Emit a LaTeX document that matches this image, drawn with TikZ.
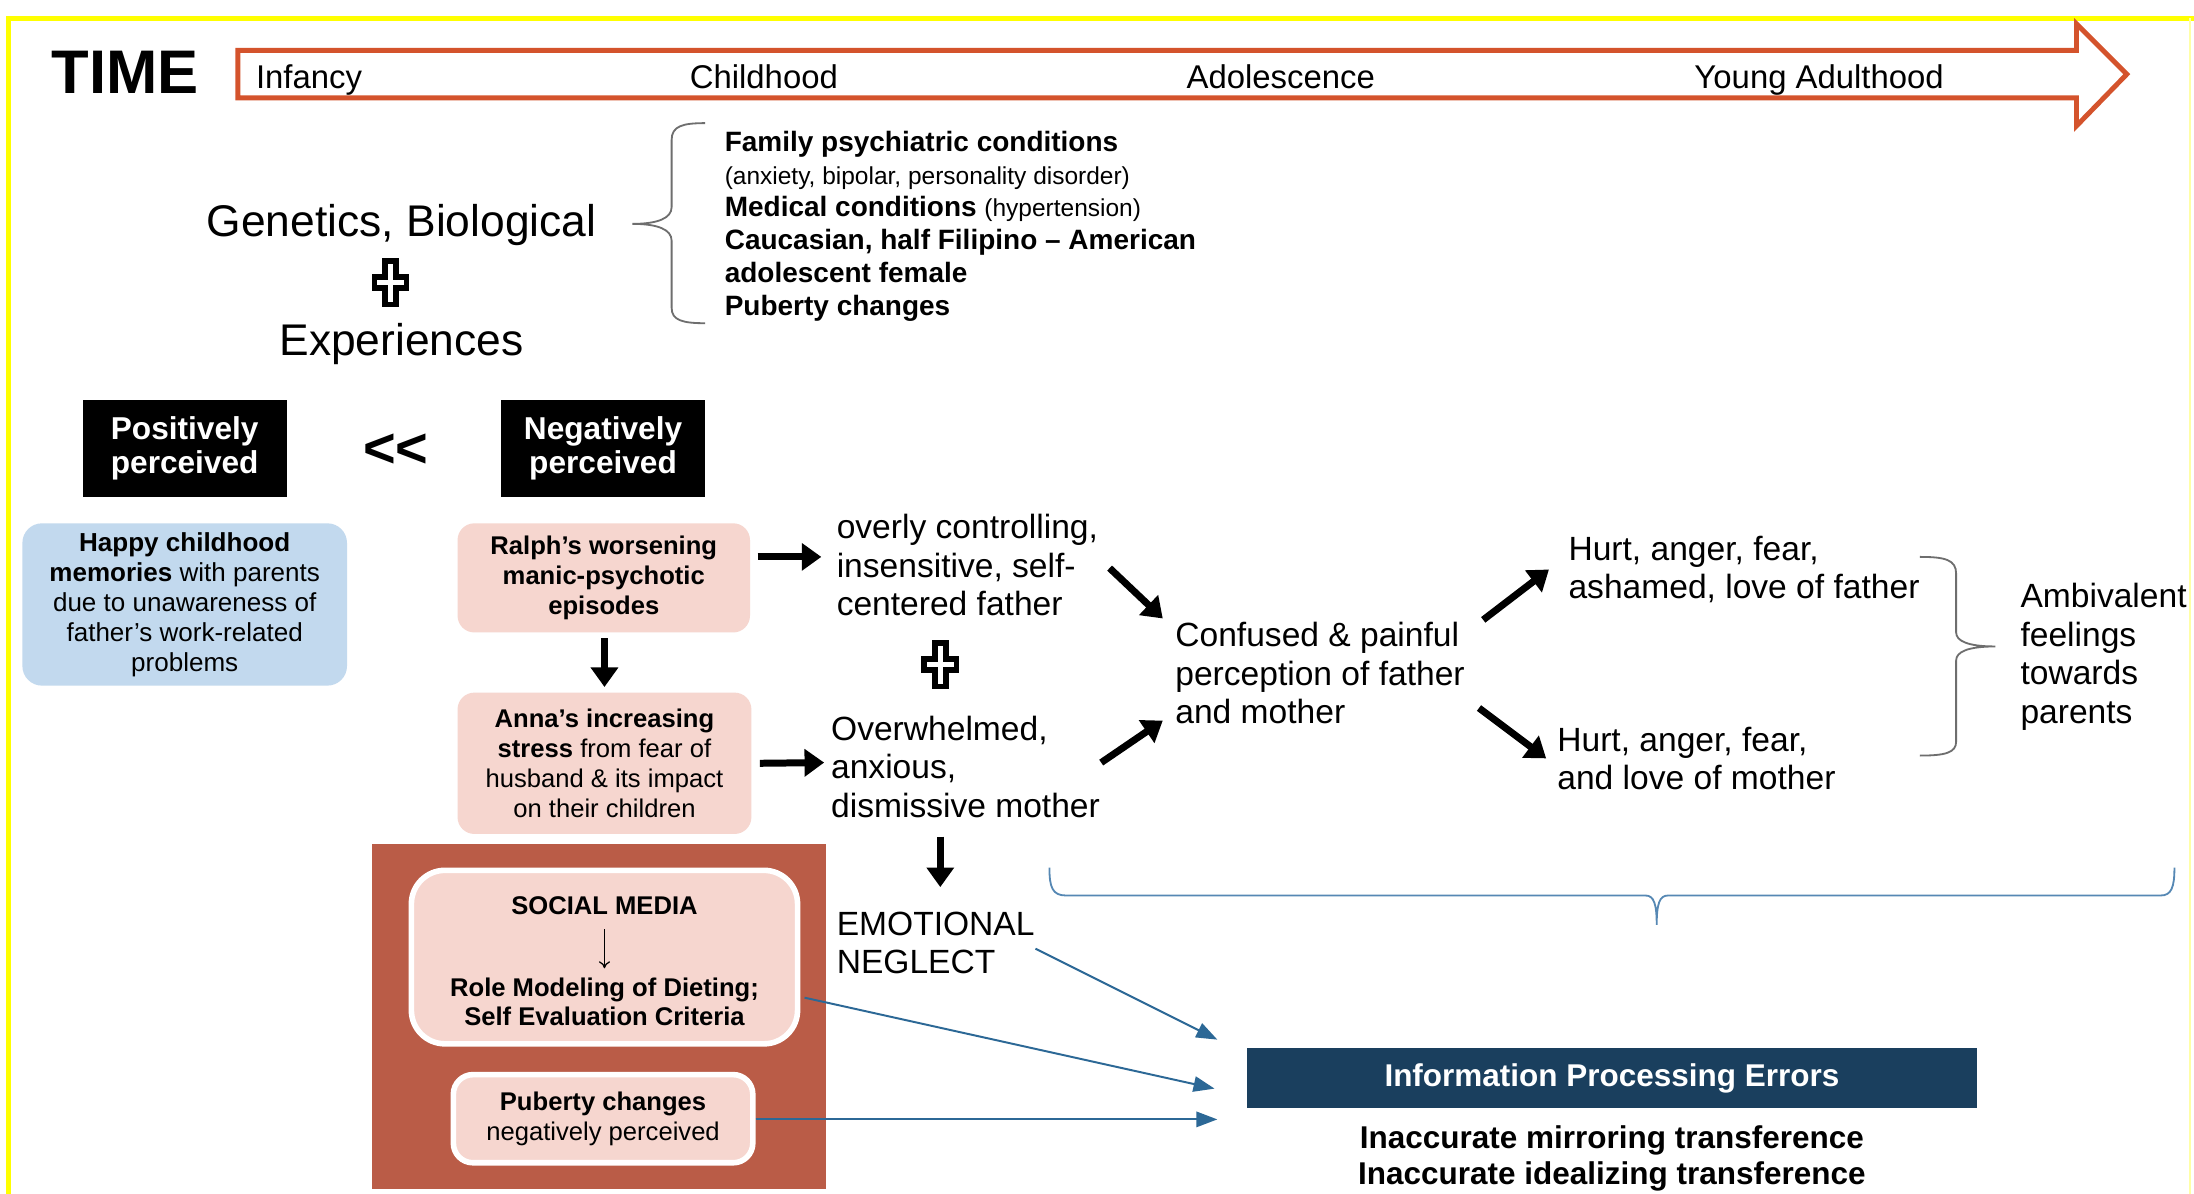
\documentclass[tikz,border=0pt]{standalone}
\usepackage{fontspec}
\setmainfont{Liberation Sans}
\usetikzlibrary{arrows.meta,calc}
\definecolor{tlred}{HTML}{D4532C}
\definecolor{rust}{HTML}{BA5C47}
\definecolor{pinkf}{HTML}{F6D6CF}
\definecolor{bluef}{HTML}{C2D9EE}
\definecolor{navy}{HTML}{1A3F5E}
\definecolor{braceblue}{HTML}{5688B4}
\definecolor{arrblue}{HTML}{2C6896}
\definecolor{frameyellow}{HTML}{FFFF00}
\definecolor{bracegray}{HTML}{6E6E6E}
\newcommand{\fs}[2]{\fontsize{#1}{#2}\selectfont}
\begin{document}
\begin{tikzpicture}[x=1pt,y=-1pt,
  every node/.style={inner sep=0pt, outer sep=0pt},
  lbl/.style={align=left, anchor=west, font=\fs{24}{27.5}},
  phase/.style={anchor=base west, font=\fs{23.5}{27}},
  blackbox/.style={fill=black, text=white, font=\fs{22.6}{25}\bfseries, align=center, minimum width=146pt, minimum height=69pt},
  bluebox/.style={fill=bluef, rounded corners=14pt, align=center, font=\fs{18.6}{21.5}, minimum width=232pt, minimum height=116pt},
  pinkbox/.style={fill=pinkf, rounded corners=12pt, align=center, font=\fs{18.3}{21.5}},
  bigarrow/.style={line width=5pt, -{Triangle[length=14pt,width=19pt]}},
  bluearrow/.style={arrblue, line width=1.4pt, -{Triangle[length=15pt,width=11pt]}},
  bracepath/.style={bracegray, line width=1.3pt},
  crossmark/.style={line width=4pt, fill=white, line join=miter}
]
\useasboundingbox (0,0) rectangle (1568,853);
\fill[white] (0,0) rectangle (1568,853);
% frame
\draw[frameyellow, line width=3.5pt] (6,853) -- (6,13) -- (1568,13);
\draw[frameyellow!35, line width=1pt] (1565,13) -- (1565,853);

% time line
\node[anchor=base west, font=\fs{44}{48}\bfseries] (time) at (37,67) {TIME};
\draw[tlred, line width=3.5pt, line join=miter] (170,36) -- (1484,36) -- (1484,17) -- (1520,53) -- (1484,90) -- (1484,70) -- (170,70) -- cycle;
\node[phase] (inf) at (183,63) {Infancy};
\node[phase] (chi) at (493,63) {Childhood};
\node[phase] (ado) at (848,63) {Adolescence};
\node[phase] (ya) at (1211,63) {Young Adulthood};

% genetics
\node[font=\fs{31.7}{36}] (gen) at (287,161) {Genetics, Biological};
\draw[crossmark, shift={(279,202)}] (-4,-15.5) -- (4,-15.5) -- (4,-4) -- (11.5,-4) -- (11.5,4) -- (4,4) -- (4,15.5) -- (-4,15.5) -- (-4,4) -- (-11.5,4) -- (-11.5,-4) -- (-4,-4) -- cycle;
\node[font=\fs{31.7}{36}] (exp) at (287,246) {Experiences};
\draw[bracepath] (504,88) .. controls (488,88) and (480,90) .. (480,100) -- (480,148) .. controls (480,156) and (470,160) .. (452,160) .. controls (470,160) and (480,164) .. (480,172) -- (480,220) .. controls (480,229) and (488,231) .. (504,231);
\node[align=left, anchor=west, font=\fs{20}{23.4}\bfseries] (glist) at (518,161.5) {Family psychiatric conditions\\
{\mdseries\fs{17.5}{23.4}(anxiety, bipolar, personality disorder)}\\
Medical conditions {\mdseries\fs{17.5}{23.4}(hypertension)}\\
Caucasian, half Filipino – American\\
adolescent female\\
Puberty changes};

% perceived boxes
\node[blackbox] (pos) at (132,320.5) {Positively\\[-0.5pt]perceived};
\node[blackbox] (neg) at (431,320.5) {Negatively\\[-0.5pt]perceived};
\node[font=\fs{40}{44}\bfseries] (ll) at (283,322) {<\kern0pt<};

\node[bluebox] (happy) at (132,432) {\textbf{Happy childhood}\\ \textbf{memories} with parents\\ due to unawareness of\\ father’s work-related\\ problems};
\node[pinkbox, minimum width=209pt, minimum height=78pt, font=\fs{18.3}{21.5}\bfseries] (ralph) at (431.5,413) {Ralph’s worsening\\manic-psychotic\\episodes};
\node[pinkbox, minimum width=210pt, minimum height=101pt] (anna) at (432,545.5) {\textbf{Anna’s increasing}\\ \textbf{stress} from fear of\\ husband \& its impact\\ on their children};

% rust box
\node[fill=rust, minimum width=324pt, minimum height=247pt] (rustbox) at (428,726.5) {};
\node[fill=pinkf, draw=white, line width=4pt, rounded corners=24pt, minimum width=276pt, minimum height=124pt] (social) at (432,684) {};
\node[font=\fs{18.3}{21}\bfseries] (sm) at (432,647) {SOCIAL MEDIA};
\node[font=\fs{18.3}{21}\bfseries, align=center] (role) at (432,716) {Role Modeling of Dieting;\\Self Evaluation Criteria};
\draw[-{To[length=5pt,width=8pt]}, line width=0.9pt] ($(sm.center)+(0,17)$) -- ($(role.center)+(0,-24)$);
\node[fill=pinkf, draw=white, line width=4pt, rounded corners=14pt, minimum width=214pt, minimum height=63pt, align=center, font=\fs{18.3}{21}] (pub) at (431,799.5) {\textbf{Puberty changes}\\negatively perceived};

% middle texts
\node[lbl] (father) at (598,404) {overly controlling,\\insensitive, self-\\centered father};
\draw[crossmark, shift={(672,475)}] (-4,-15.5) -- (4,-15.5) -- (4,-4) -- (11.5,-4) -- (11.5,4) -- (4,4) -- (4,15.5) -- (-4,15.5) -- (-4,4) -- (-11.5,4) -- (-11.5,-4) -- (-4,-4) -- cycle;
\node[lbl] (mother) at (594,548) {Overwhelmed,\\anxious,\\dismissive mother};
\node[lbl] (confused) at (840,481) {Confused \& painful\\perception of father\\and mother};
\node[lbl] (hurtf) at (1121,407) {Hurt, anger, fear,\\ashamed, love of father};
\node[lbl] (hurtm) at (1113,542) {Hurt, anger, fear,\\and love of mother};
\node[lbl] (ambi) at (1444,469.5) {Ambivalent\\feelings\\towards\\parents};
\node[lbl] (emo) at (598,674) {EMOTIONAL\\NEGLECT};

% black arrows
\draw[bigarrow] ($(ralph.center)+(110,-15)$) -- ($(father.west)+(-11,-6)$);
\draw[bigarrow] ($(anna.center)+(111,0)$) -- ($(mother.west)+(-5,-3)$);
\draw[bigarrow] ($(ralph.center)+(0.5,43)$) -- ($(anna.center)+(0,-54.5)$);
\draw[bigarrow] ($(father.west)+(195,2)$) -- ($(confused.west)+(-9,-39)$);
\draw[bigarrow] ($(mother.west)+(193,-3)$) -- ($(confused.west)+(-9,34)$);
\draw[bigarrow] ($(confused.west)+(220,-38)$) -- ($(hurtf.west)+(-14,0)$);
\draw[bigarrow] ($(confused.west)+(217,25)$) -- ($(hurtm.west)+(-8,0)$);
\draw[bigarrow] ($(mother.west)+(78,50)$) -- ($(emo.west)+(74,-40)$);

% braces
\draw[bracepath] (1372,398) .. controls (1390,398) and (1398,400) .. (1398,410) -- (1398,452) .. controls (1398,458) and (1406,462) .. (1426,462) .. controls (1406,462) and (1398,466) .. (1398,472) -- (1398,530) .. controls (1398,538) and (1390,540) .. (1372,540);
\draw[braceblue, line width=1.3pt] (750,620) .. controls (750,634) and (752,640) .. (762,640) -- (1176,640) .. controls (1182,640) and (1184,646) .. (1184,661) .. controls (1184,646) and (1186,640) .. (1192,640) -- (1544,640) .. controls (1552,640) and (1554,634) .. (1554,620);

% information processing
\node[fill=navy, text=white, minimum width=522pt, minimum height=43pt, font=\fs{22.5}{26}\bfseries] (info) at (1152,770.5) {\raisebox{-1.5pt}{Information Processing Errors}};
\node[font=\fs{22.5}{26}\bfseries, align=center] (trans) at (1152,828) {Inaccurate mirroring transference\\Inaccurate idealizing transference};

% blue arrows
\draw[bluearrow] ($(emo.west)+(142,4)$) -- ($(info.west)+(-21,-27.5)$);
\draw[bluearrow] ($(social.east)+(5,29)$) -- ($(info.west)+(-23,7.5)$);
\draw[bluearrow] ($(pub.east)+(2,0.5)$) -- ($(info.west)+(-21,29.5)$);
\end{tikzpicture}
\end{document}
